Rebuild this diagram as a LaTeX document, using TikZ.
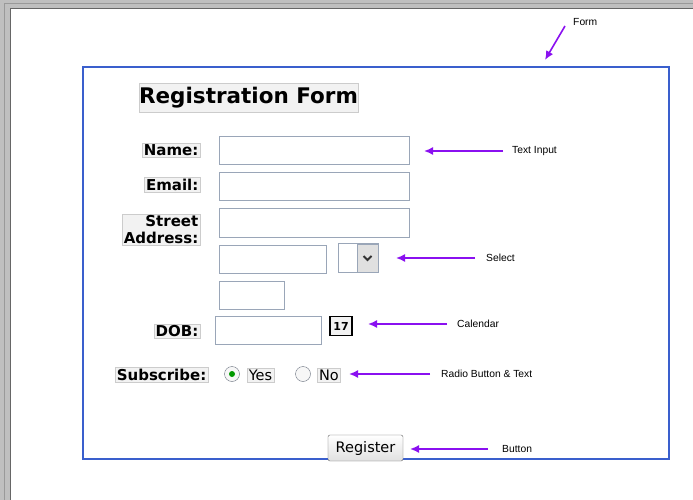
\documentclass[tikz,border=0pt]{standalone}
\usepackage{fontspec}
\setmainfont{DejaVu Sans}
\newfontfamily\notefont{Liberation Sans}
\definecolor{arr}{HTML}{8A10F0}
\definecolor{formblue}{HTML}{3A5FCD}
\definecolor{boxgray}{HTML}{9AA6B8}
\begin{document}
\begin{tikzpicture}[x=1pt,y=-1pt,
  lbl/.style={draw=black!20,fill=black!5,inner sep=1.5pt,font=\bfseries\fontsize{15}{17}\selectfont},
  inp/.style={draw=boxgray,fill=white},
  arrw/.style={draw=arr,line width=1.6pt,-{Latex[length=9pt,width=8pt]}},
  note/.style={font=\notefont\fontsize{10.3}{12}\selectfont,anchor=west,inner sep=0pt},
  radio/.style={circle,draw=boxgray!70!black,minimum size=15pt,inner sep=0pt,fill=black!3}]
\usetikzlibrary{arrows.meta}
\useasboundingbox (0,0) rectangle (693,500);
\fill[black!25] (0,0) rectangle (693,500);
\fill[white] (10,8) rectangle (693,500);
\draw[black!60] (10,500) -- (10,8) -- (693,8);
\draw[black!40] (4,500) -- (4,3) -- (693,3);
% form
\node[draw=formblue,line width=1.4pt,minimum width=586pt,minimum height=392pt,inner sep=0pt] (form) at (376,263) {};
\node[lbl,font=\bfseries\fontsize{21.5}{24}\selectfont,minimum width=219pt,minimum height=29pt,inner sep=0pt] (title) at (248.5,97.5) {Registration Form};
% rows
\node[lbl,anchor=east] (lname) at (200,150.5) {Name:};
\draw[inp] (219,136) rectangle (409,164);
\node[lbl,anchor=east] (lemail) at (200,184.5) {Email:};
\draw[inp] (219,172) rectangle (409,200);
\node[lbl,anchor=east,align=right] (laddr) at (200,230) {Street\\Address:};
\draw[inp] (219,208) rectangle (409,237);
\draw[inp] (219,245) rectangle (326,273);
\node[draw=boxgray,fill=white,minimum width=40pt,minimum height=29pt,inner sep=0pt] (sel) at (358,257.5) {};
\node[draw=boxgray,fill=black!12,minimum width=21pt,minimum height=28pt,inner sep=0pt] (selbtn) at (367.5,258) {};
\draw[black!80,line width=1.8pt] ([xshift=-4pt,yshift=2pt]selbtn.center) -- ([yshift=-2pt]selbtn.center) -- ([xshift=4pt,yshift=2pt]selbtn.center);
\draw[inp] (219,281) rectangle (284,309);
\node[lbl,anchor=east] (ldob) at (200,331.5) {DOB:};
\draw[inp] (215,316) rectangle (321,344);
\node[draw=black,line width=1.8pt,fill=black!5,minimum width=22pt,minimum height=19pt,inner sep=0pt,font=\bfseries\fontsize{11}{12}\selectfont] (cal) at (341,326) {17};
\node[lbl,anchor=east] (lsub) at (208,374.5) {Subscribe:};
\node[radio] (ryes) at (232,374) {};
\fill[green!60!black] (ryes) circle (3pt);
\node[draw=black!20,fill=black!5,inner sep=1.5pt,font=\fontsize{14.5}{16}\selectfont] (tyes) at (260.5,375) {Yes};
\node[radio] (rno) at (303,374) {};
\node[draw=black!20,fill=black!5,inner sep=1.5pt,font=\fontsize{14.5}{16}\selectfont] (tno) at (329,375) {No};
\node[draw=black!60,rounded corners=2pt,top color=white,bottom color=black!12,minimum width=75pt,minimum height=26pt,inner sep=0pt,font=\fontsize{14.5}{16}\selectfont] (btn) at (365.5,448) {Register};
% annotations
\node[note] (nform) at (573,22) {Form};
\node[note] (ntext) at (512,151) {Text Input};
\node[note] (nsel) at (486,258) {Select};
\node[note] (ncal) at (457,324) {Calendar};
\node[note] (nrad) at (441,374) {Radio Button \& Text};
\node[note] (nbtn) at (502,449) {Button};
\coordinate (fa) at (565,26); \coordinate (fb) at (545,60);
\draw[arrw] (fa) -- (fb);
\coordinate (a1) at (503,151); \coordinate (b1) at (424,151);
\draw[arrw] (a1) -- (b1);
\coordinate (a2) at (475,258); \coordinate (b2) at (396,258);
\draw[arrw] (a2) -- (b2);
\coordinate (a3) at (447,324); \coordinate (b3) at (368,324);
\draw[arrw] (a3) -- (b3);
\coordinate (a4) at (430,374); \coordinate (b4) at (349,374);
\draw[arrw] (a4) -- (b4);
\coordinate (a5) at (488,449); \coordinate (b5) at (410,449);
\draw[arrw] (a5) -- (b5);
\end{tikzpicture}
\end{document}
